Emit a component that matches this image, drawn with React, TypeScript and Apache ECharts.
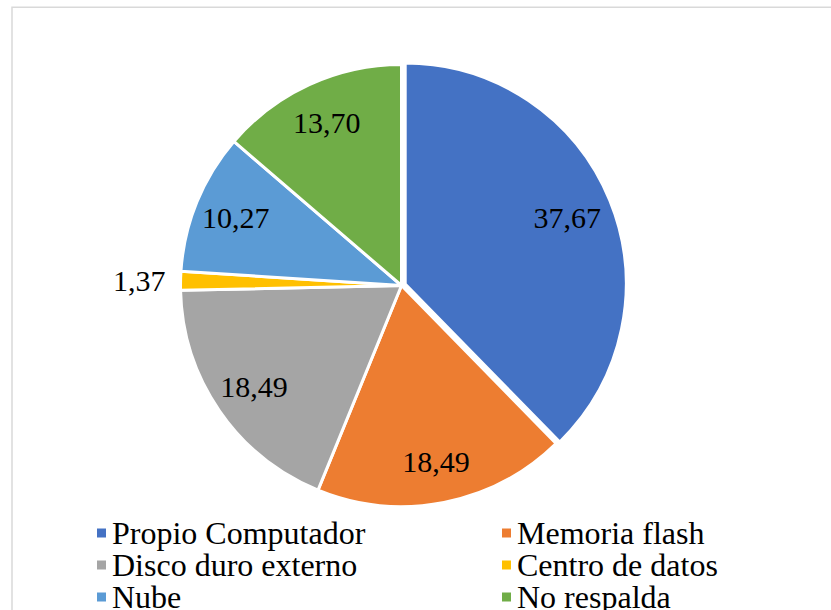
import React, { useEffect, useRef } from "react";
import * as echarts from "echarts";

const categories = [
  "Propio Computador",
  "Memoria flash",
  "Disco duro externo",
  "Centro de datos",
  "Nube",
  "No respalda",
];
const values = [37.67, 18.49, 18.49, 1.37, 10.27, 13.7];
const colors = ["#4472C4", "#ED7D31", "#A5A5A5", "#FFC000", "#5B9BD5", "#70AD47"];
const legendLeft = ["Propio Computador", "Disco duro externo", "Nube"];
const legendRight = ["Memoria flash", "Centro de datos", "No respalda"];

const FONT = "Liberation Serif";

export default function App() {
  const ref = useRef<HTMLDivElement>(null);
  useEffect(() => {
    document.body.style.margin = "0";
    const chart = echarts.init(ref.current!, null, { renderer: "svg" });
    const fmt = (p: any) => p.value.toFixed(2).replace(".", ",");
    const legendData = (names: string[]) =>
      names.map((n) => ({ name: n, itemStyle: { color: colors[categories.indexOf(n)] } }));
    const legendCommon = {
      orient: "vertical" as const,
      icon: "rect",
      itemWidth: 11,
      itemHeight: 11,
      itemGap: 0,
      textStyle: { fontFamily: FONT, fontSize: 32, color: "#000", lineHeight: 31 },
      itemTextGap: 9,
      top: 517,
      height: 200,
      padding: 0,
      selectedMode: false,
    };
    const option = {
      animation: false,
      backgroundColor: "#fff",
      textStyle: { fontFamily: FONT },
      graphic: [
        {
          type: "rect",
          silent: true,
          shape: { x: 12, y: 7.2, width: 900, height: 700 },
          style: { fill: "none", stroke: "#d9d9d9", lineWidth: 1.5 },
        },
      ],
      legend: [
        { ...legendCommon, left: 95, data: legendData(legendLeft) },
        { ...legendCommon, left: 500, data: legendData(legendRight) },
      ],
      series: [
        {
          type: "pie",
          center: [401.5, 285.5],
          radius: 221,
          startAngle: 90,
          clockwise: true,
          selectedMode: "single",
          selectedOffset: 4,
          silent: true,
          label: { show: false },
          labelLine: { show: false },
          itemStyle: { borderColor: "#fff", borderWidth: 3 },
          select: { itemStyle: { borderColor: "#fff", borderWidth: 3 } },
          emphasis: { disabled: true },
          data: categories.map((c, i) => ({
            name: c,
            value: values[i],
            selected: i === 0,
            itemStyle: { color: colors[i] },
          })),
        },
        {
          type: "pie",
          center: [401.5, 285.5],
          radius: [131, 221],
          startAngle: 90,
          clockwise: true,
          silent: true,
          selectedMode: false,
          emphasis: { disabled: true },
          itemStyle: { color: "rgba(0,0,0,0)", borderWidth: 0 },
          label: {
            show: true,
            position: "inside",
            formatter: fmt,
            fontFamily: FONT,
            fontSize: 30,
            color: "#000",
          },
          labelLine: { show: false, length: 5, length2: 5 },
          data: categories.map((c, i) => ({
            name: c,
            value: values[i],
            ...(i === 3
              ? { label: { position: "outside" }, labelLine: { show: false, length: 5, length2: 5 } }
              : {}),
          })),
        },
      ],
    };
    chart.setOption(option as any);
    let alive = true;
    (document as any).fonts?.ready?.then(() => {
      if (alive) chart.setOption(option as any, true);
    });
    return () => {
      alive = false;
      chart.dispose();
    };
  }, []);
  return <div ref={ref} style={{ width: 831, height: 610, fontFamily: FONT }} />;
}
